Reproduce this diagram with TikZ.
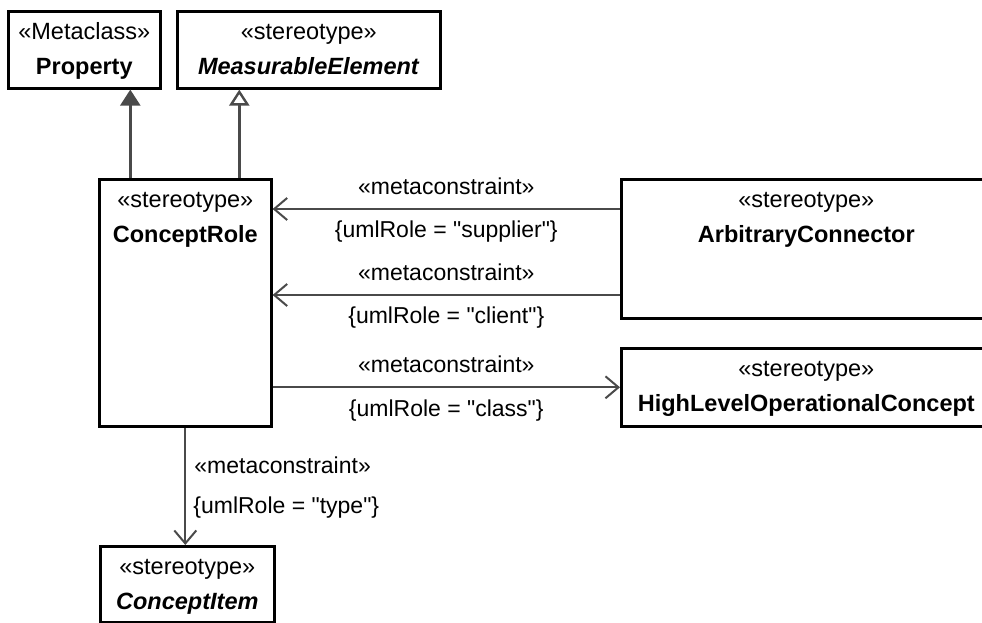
\documentclass[tikz,border=0pt]{standalone}
\usepackage{fontspec}
\setmainfont{Liberation Sans}[Ligatures=TeXOff]
\usetikzlibrary{arrows.meta}
\definecolor{umlink}{HTML}{000000}
\definecolor{umlline}{HTML}{4A4A4A}
\tikzset{
  cls/.style={draw=umlink, line width=2.6pt, align=center, inner sep=0pt, anchor=north west, text height=63pt, font=\fontsize{23.5}{35}\selectfont},
  mc/.style={-{Straight Barb[length=13pt, width=22pt, line width=2pt]}, line width=2.2pt, color=umlline},
  gen/.style={-{Triangle[length=16pt, width=20pt]}, line width=2.4pt, color=umlline},
  genopen/.style={-{Triangle[open, length=16pt, width=20pt, fill=white]}, line width=2.4pt, color=umlline},
  lbl/.style={font=\fontsize{23}{27}\selectfont, text=black, inner sep=2pt},
}
\begin{document}
\begin{tikzpicture}[x=1pt, y=-1pt]
  \useasboundingbox (0,0) rectangle (982,623);
  \clip (0,0) rectangle (982,623);
  \node[cls, minimum width=152pt, text depth=14pt] (prop) at (7,10) {«Metaclass»\\\textbf{Property}};
  \node[cls, minimum width=263pt, text depth=14pt] (meas) at (176,10) {«stereotype»\\\textbf{\textit{MeasurableElement}}};
  \node[cls, minimum width=172pt, text depth=184pt] (role) at (98,178) {«stereotype»\\\textbf{ConceptRole}};
  \node[cls, minimum width=370pt, text depth=76pt] (arb) at (620,178) {«stereotype»\\\textbf{ArbitraryConnector}};
  \node[cls, minimum width=370pt, text depth=15pt] (hloc) at (620,347) {«stereotype»\\\textbf{HighLevelOperationalConcept}};
  \node[cls, minimum width=174pt, text depth=13pt] (item) at (99,545) {«stereotype»\\\textbf{\textit{ConceptItem}}};
  % generalisations
  \draw[gen] ([xshift=-55pt]role.north) -- ([xshift=-55pt]role.north |- prop.south);
  \draw[genopen] ([xshift=54pt]role.north) -- ([xshift=54pt]role.north |- meas.south);
  % metaconstraints
  \draw[mc] ([yshift=-31pt]arb.north west) -- ([yshift=-31pt]arb.north west -| role.east)
    node[lbl, midway, above=11pt]{«metaconstraint»}
    node[lbl, midway, below=9pt]{\{umlRole = "supplier"\}};
  \draw[mc] ([yshift=-117pt]arb.north west) -- ([yshift=-117pt]arb.north west -| role.east)
    node[lbl, midway, above=11pt]{«metaconstraint»}
    node[lbl, midway, below=9pt]{\{umlRole = "client"\}};
  \draw[mc] (hloc.west -| role.east) -- (hloc.west)
    node[lbl, midway, above=11pt]{«metaconstraint»}
    node[lbl, midway, below=9pt]{\{umlRole = "class"\}};
  \draw[mc] (role.south) -- (role.south |- item.north)
    node[lbl, pos=0.32, right=6pt]{«metaconstraint»}
    node[lbl, pos=0.68, right=5pt]{\{umlRole = "type"\}};
\end{tikzpicture}
\end{document}
